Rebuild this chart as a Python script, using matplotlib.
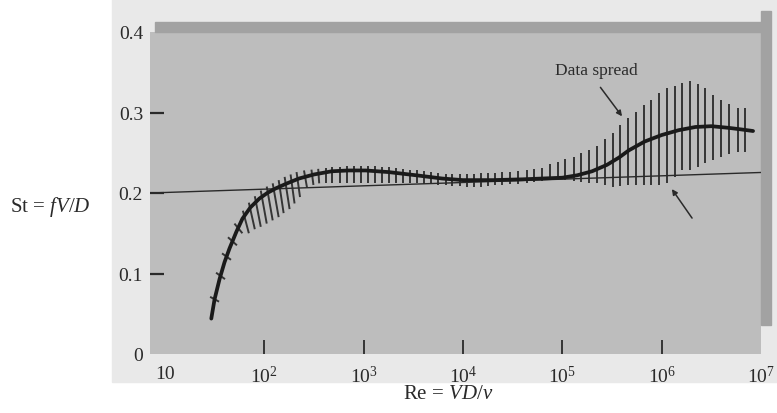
import matplotlib.pyplot as plt
import numpy as np
from matplotlib.collections import LineCollection
from matplotlib.patches import Rectangle

# main curve St(Re) (log10 Re, St)
curve_log_re = [1.467, 1.50, 1.55, 1.60, 1.65, 1.72, 1.78, 1.86, 1.95, 2.03, 2.12,
                2.23, 2.35, 2.50, 2.68, 2.85, 3.02, 3.25, 3.53, 3.79, 4.00, 4.30,
                4.60, 5.00, 5.15, 5.30, 5.45, 5.57, 5.67, 5.83, 6.00, 6.17, 6.34,
                6.50, 6.67, 6.80, 6.92]
curve_st = [0.044, 0.068, 0.093, 0.114, 0.131, 0.152, 0.168, 0.182, 0.193, 0.200, 0.206,
            0.212, 0.218, 0.223, 0.227, 0.228, 0.228, 0.226, 0.222, 0.218, 0.216, 0.216,
            0.217, 0.219, 0.222, 0.227, 0.235, 0.244, 0.253, 0.264, 0.272, 0.278, 0.282,
            0.283, 0.281, 0.279, 0.277]

# thin reference line
ref_re = [10 ** 0.85, 1e7]
ref_st = [0.200, 0.2255]

# data spread hatch marks: top end (log10 Re, St), bottom St, shift of bottom end in decades
spread_log_re = [1.455, 1.515, 1.575, 1.635, 1.70, 1.785, 1.845, 1.905, 1.965, 2.025,
                 2.085, 2.145, 2.205, 2.265, 2.325, 2.40, 2.475, 2.543, 2.62, 2.686,
                 2.761, 2.83, 2.905, 2.972, 3.045, 3.116, 3.189, 3.256, 3.323, 3.397,
                 3.467, 3.541, 3.608, 3.681, 3.752, 3.825, 3.892, 3.966, 4.037, 4.11,
                 4.18, 4.25, 4.32, 4.39, 4.47, 4.55, 4.64, 4.72, 4.80, 4.874, 4.955,
                 5.032, 5.116, 5.193, 5.273, 5.35, 5.427, 5.508, 5.585, 5.661, 5.742,
                 5.819, 5.896, 5.973, 6.054, 6.131, 6.204, 6.281, 6.362, 6.439, 6.516,
                 6.596, 6.680, 6.764, 6.841]
spread_hi = [0.071, 0.101, 0.125, 0.145, 0.162, 0.178, 0.188, 0.196, 0.203, 0.208,
             0.212, 0.216, 0.220, 0.223, 0.226, 0.228, 0.229, 0.230, 0.231, 0.232,
             0.232, 0.233, 0.233, 0.233, 0.233, 0.233, 0.232, 0.232, 0.231, 0.230,
             0.229, 0.228, 0.227, 0.226, 0.225, 0.224, 0.224, 0.223, 0.223, 0.224,
             0.225, 0.225, 0.225, 0.226, 0.226, 0.227, 0.228, 0.230, 0.231, 0.236,
             0.239, 0.242, 0.245, 0.250, 0.254, 0.259, 0.267, 0.274, 0.284, 0.293,
             0.301, 0.309, 0.315, 0.324, 0.330, 0.333, 0.337, 0.339, 0.335, 0.330,
             0.322, 0.315, 0.311, 0.306, 0.305]
spread_lo = [0.065, 0.093, 0.117, 0.135, 0.150, 0.150, 0.155, 0.158, 0.162, 0.166,
             0.170, 0.175, 0.180, 0.187, 0.195, 0.207, 0.210, 0.212, 0.213, 0.213,
             0.213, 0.213, 0.213, 0.213, 0.213, 0.213, 0.213, 0.213, 0.213, 0.212,
             0.212, 0.212, 0.211, 0.211, 0.210, 0.210, 0.209, 0.209, 0.208, 0.208,
             0.208, 0.209, 0.210, 0.210, 0.211, 0.211, 0.212, 0.214, 0.215, 0.216,
             0.216, 0.216, 0.215, 0.214, 0.212, 0.212, 0.210, 0.208, 0.209, 0.210,
             0.210, 0.210, 0.210, 0.210, 0.212, 0.220, 0.228, 0.228, 0.232, 0.237,
             0.241, 0.245, 0.249, 0.251, 0.251]
spread_tilt = [0.09, 0.09, 0.09, 0.09, 0.08, 0.06, 0.06, 0.06, 0.06, 0.06,
               0.06, 0.05, 0.05, 0.04, 0.035, 0.03, 0.02, 0.01]

x_ticks = [10, 1e2, 1e3, 1e4, 1e5, 1e6, 1e7]
x_labels = ['10', '$10^2$', '$10^3$', '$10^4$', '$10^5$', '$10^6$', '$10^7$']
y_ticks = [0, 0.1, 0.2, 0.3, 0.4]
y_labels = ['0', '0.1', '0.2', '0.3', '0.4']

plt.rcParams['font.family'] = 'Liberation Serif'
plt.rcParams['mathtext.fontset'] = 'custom'
plt.rcParams['mathtext.rm'] = 'Liberation Serif'
plt.rcParams['mathtext.it'] = 'Liberation Serif:italic'

ink = '#2a2a2a'
W, H = 777, 414
fig = plt.figure(figsize=(W / 100, H / 100), dpi=100)
fig.add_artist(Rectangle((112 / W, 1 - 383 / H), 1, 383 / H, transform=fig.transFigure,
                         color='#e9e9e9', zorder=-10))

ax = fig.add_axes([150 / W, 59 / H, 611 / W, 322 / H])
ax.set_facecolor('#bdbdbd')
for s in ax.spines.values():
    s.set_visible(False)
ax.set_xscale('log')
ax.set_xlim(10 ** 0.85, 1e7)
ax.set_ylim(0, 0.4)

# scan shading on the top and right edges
ax.add_patch(Rectangle((0.008, 1.0), 0.992, 0.032, transform=ax.transAxes,
                       color='#a2a2a2', clip_on=False, zorder=0))
ax.add_patch(Rectangle((1.0, 0.09), 0.017, 0.975, transform=ax.transAxes,
                       color='#a2a2a2', clip_on=False, zorder=0))

# data spread hatching
tilt = spread_tilt + [0.0] * (len(spread_log_re) - len(spread_tilt))
segs = []
for lr, hi, lo, t in zip(spread_log_re, spread_hi, spread_lo, tilt):
    segs.append([(10 ** lr, hi), (10 ** (lr + t), lo)])
ax.add_collection(LineCollection(segs, colors='#353535', linewidths=1.4, zorder=2))

ax.plot(ref_re, ref_st, color=ink, lw=1.0, zorder=3)
ax.plot(10 ** np.array(curve_log_re), curve_st, color='#1a1a1a', lw=2.7,
        solid_capstyle='round', zorder=4)

ax.text(10 ** 5.342, 0.353, 'Data spread', ha='center', va='center', fontsize=12.5, color=ink)
ax.annotate('', xy=(10 ** 5.618, 0.2925), xytext=(10 ** 5.367, 0.334),
            arrowprops=dict(arrowstyle='-|>', lw=1.1, color=ink, mutation_scale=8))
ax.annotate('', xy=(10 ** 6.087, 0.2077), xytext=(10 ** 6.322, 0.166),
            arrowprops=dict(arrowstyle='-|>', lw=1.1, color=ink, mutation_scale=8))

ax.set_xticks(x_ticks)
ax.set_xticklabels(x_labels)
ax.xaxis.set_minor_locator(plt.NullLocator())
ax.set_yticks(y_ticks)
ax.set_yticklabels(y_labels)
ax.tick_params(axis='x', direction='in', length=10, width=1.3, color=ink, pad=8,
               labelsize=14, labelcolor=ink)
ax.tick_params(axis='y', direction='in', length=10, width=1.6, color=ink, pad=5,
               labelsize=14, labelcolor=ink)
xt = ax.xaxis.get_major_ticks()
xt[0].tick1line.set_visible(False)
xt[-1].tick1line.set_visible(False)
yt = ax.yaxis.get_major_ticks()
yt[0].tick1line.set_visible(False)
yt[-1].tick1line.set_visible(False)

fig.text(50 / W, 1 - 207 / H, r'St = $fV$/$D$', ha='center', va='center', fontsize=15, color=ink)
fig.text(448 / W, 1 - 395 / H, r'Re = $VD$/$\nu$', ha='center', va='center', fontsize=15, color=ink)

fig.savefig('out.png', dpi=100)
